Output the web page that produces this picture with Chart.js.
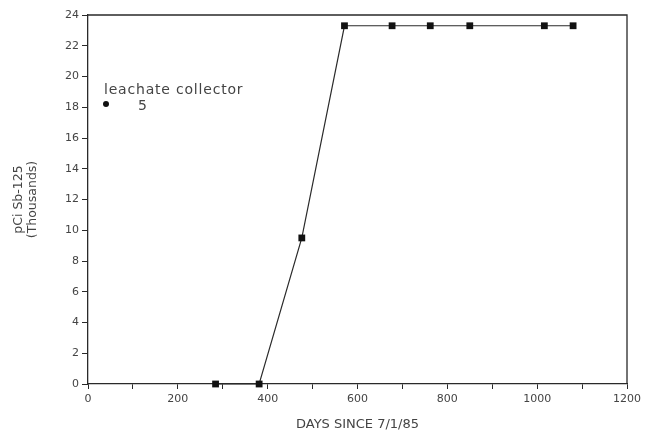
<!DOCTYPE html>
<html>
<head>
<meta charset="utf-8">
<script src="https://cdn.jsdelivr.net/npm/chart.js@4"></script>
<style>
html,body{margin:0;padding:0;background:#fff;}
#wrap{width:645px;height:434px;position:relative;}
</style>
</head>
<body>
<div id="wrap"><canvas id="c" width="645" height="434"></canvas></div>
<script>
const days = [284, 381, 476, 571, 677, 762, 850, 1016, 1080];
const sbValues = [0, 0, 9.5, 23.3, 23.3, 23.3, 23.3, 23.3, 23.3];
const seriesLabel = ["leachate collector", "5"];
const xTitle = "DAYS SINCE 7/1/85";
const yTitle = ["pCi Sb-125", "(Thousands)"];
const xTickLabels = [0, 200, 400, 600, 800, 1000, 1200];

const ink = '#2a2a2a';
const textInk = '#444';
const fontFam = '"DejaVu Sans", sans-serif';

const boxPlugin = {
  id: 'box',
  afterDraw(chart) {
    const {ctx, chartArea: a} = chart;
    ctx.save();
    ctx.strokeStyle = ink;
    ctx.lineWidth = 1.3;
    ctx.beginPath();
    ctx.moveTo(a.left, a.top);
    ctx.lineTo(a.right, a.top);
    ctx.lineTo(a.right, a.bottom);
    ctx.stroke();
    // legend
    ctx.fillStyle = textInk;
    ctx.font = '14px ' + fontFam;
    if ('letterSpacing' in ctx) ctx.letterSpacing = '0.8px';
    ctx.textBaseline = 'alphabetic';
    ctx.textAlign = 'left';
    ctx.fillText(seriesLabel[0], a.left + 16, a.top + 79);
    ctx.fillText(seriesLabel[1], a.left + 50, a.top + 95);
    ctx.fillStyle = '#111';
    ctx.beginPath();
    ctx.arc(a.left + 18, a.top + 89, 3, 0, Math.PI * 2);
    ctx.fill();
    ctx.restore();
  }
};

new Chart(document.getElementById('c'), {
  type: 'scatter',
  data: {
    datasets: [{
      label: seriesLabel.join(' '),
      data: days.map((d, i) => ({x: d, y: sbValues[i]})),
      showLine: true,
      borderColor: ink,
      borderWidth: 1.2,
      backgroundColor: '#111',
      pointStyle: 'rect',
      pointRadius: 4.8,
      pointBorderWidth: 0,
      tension: 0,
      clip: false
    }]
  },
  options: {
    responsive: false,
    animation: false,
    events: [],
    layout: {padding: {left: 12, right: 12, top: 15, bottom: 2}},
    plugins: {legend: {display: false}, tooltip: {enabled: false}},
    scales: {
      x: {
        type: 'linear', min: 0, max: 1200,
        afterFit(s) { s.height = 48; },
        ticks: {
          stepSize: 100, autoSkip: false, maxRotation: 0,
          color: textInk, font: {family: fontFam, size: 11},
          padding: 4,
          callback: (v) => xTickLabels.includes(v) ? String(v) : ''
        },
        grid: {drawOnChartArea: false, drawTicks: true, tickLength: 5, color: ink},
        border: {color: ink, width: 1.3},
        title: {display: true, text: xTitle, color: textInk, font: {family: fontFam, size: 13}, padding: {top: 0, bottom: 0}}
      },
      y: {
        min: 0, max: 24,
        afterFit(s) { s.width = 76; },
        ticks: {stepSize: 2, color: textInk, font: {family: fontFam, size: 11}, padding: 3},
        grid: {drawOnChartArea: false, drawTicks: true, tickLength: 6, color: ink},
        border: {color: ink, width: 1.3},
        title: {display: true, text: yTitle, color: textInk, font: {family: fontFam, size: 12.5, lineHeight: 1.1}, padding: {top: 0, bottom: 10}}
      }
    }
  },
  plugins: [boxPlugin]
});
</script>
</body>
</html>
